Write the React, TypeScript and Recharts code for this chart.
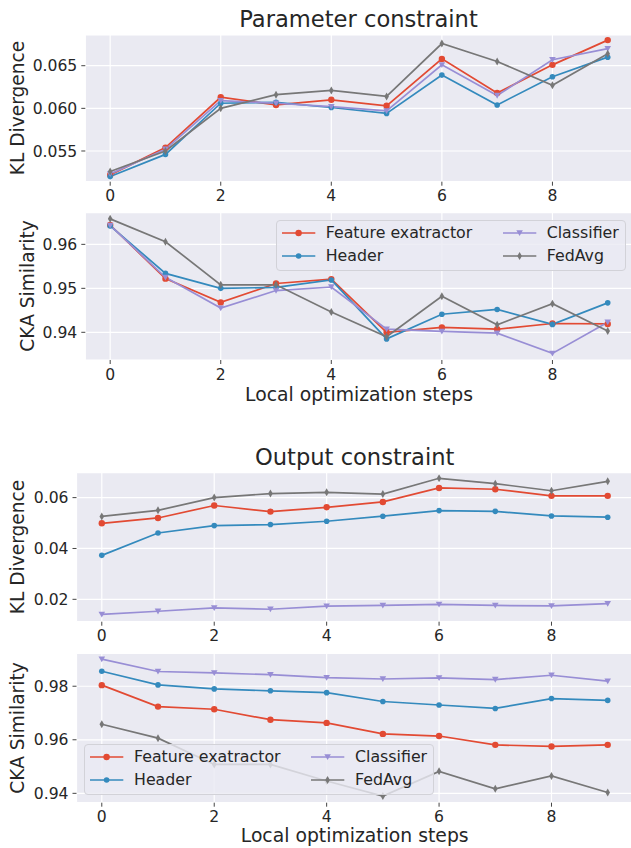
import React from "react";
import { LineChart, Line, XAxis, YAxis, CartesianGrid } from "recharts";

// x values (local optimization steps)
const steps = [0, 1, 2, 3, 4, 5, 6, 7, 8, 9];
const xTicks = [0, 2, 4, 6, 8];

// FedAvg baseline is the same in both figures
const fedAvgKL = [0.0526, 0.055, 0.06, 0.0616, 0.0621, 0.0614, 0.0676, 0.0655, 0.0627, 0.0664];
const fedAvgCKA = [0.9658, 0.9606, 0.9508, 0.9508, 0.9446, 0.939, 0.9482, 0.9417, 0.9465, 0.9403];

// Parameter constraint
const paramKLFeature = [0.0522, 0.0554, 0.0613, 0.0604, 0.061, 0.0603, 0.0658, 0.0618, 0.0651, 0.068];
const paramKLHeader = [0.052, 0.0546, 0.0606, 0.0607, 0.0601, 0.0594, 0.0639, 0.0604, 0.0637, 0.066];
const paramKLClassifier = [0.0523, 0.0552, 0.0609, 0.0606, 0.0602, 0.0597, 0.0651, 0.0615, 0.0657, 0.067];

const paramCKAFeature = [0.9644, 0.9522, 0.9468, 0.9511, 0.9521, 0.94, 0.9411, 0.9407, 0.942, 0.9419];
const paramCKAHeader = [0.9642, 0.9534, 0.95, 0.9502, 0.9519, 0.9385, 0.9441, 0.9452, 0.9418, 0.9467];
const paramCKAClassifier = [0.9643, 0.9525, 0.9455, 0.9495, 0.9503, 0.9407, 0.9402, 0.9398, 0.9352, 0.9423];

// Output constraint
const outKLFeature = [0.0499, 0.052, 0.0569, 0.0545, 0.0562, 0.0583, 0.0638, 0.0633, 0.0607, 0.0607];
const outKLHeader = [0.0373, 0.0461, 0.049, 0.0494, 0.0507, 0.0527, 0.0549, 0.0546, 0.0528, 0.0523];
const outKLClassifier = [0.0141, 0.0153, 0.0166, 0.0161, 0.0173, 0.0176, 0.018, 0.0176, 0.0174, 0.0183];

const outCKAFeature = [0.9804, 0.9724, 0.9714, 0.9675, 0.9663, 0.9622, 0.9614, 0.9581, 0.9575, 0.9581];
const outCKAHeader = [0.9856, 0.9805, 0.979, 0.9783, 0.9776, 0.9743, 0.973, 0.9717, 0.9754, 0.9747];
const outCKAClassifier = [0.9901, 0.9855, 0.985, 0.9843, 0.9832, 0.9827, 0.9831, 0.9825, 0.9841, 0.9819];

const klTicksParam = [0.055, 0.06, 0.065];
const ckaTicksParam = [0.94, 0.95, 0.96];
const klTicksOut = [0.02, 0.04, 0.06];
const ckaTicksOut = [0.94, 0.96, 0.98];

const FONT = "'DejaVu Sans', sans-serif";
const TEXT = "#262626";
const BG = "#EAEAF2";

type Marker = "o" | "h" | "v" | "d";

const SERIES: { key: string; name: string; color: string; marker: Marker }[] = [
  { key: "feature", name: "Feature exatractor", color: "#E24A33", marker: "o" },
  { key: "header", name: "Header", color: "#348ABD", marker: "h" },
  { key: "classifier", name: "Classifier", color: "#988ED5", marker: "v" },
  { key: "fedavg", name: "FedAvg", color: "#777777", marker: "d" },
];

function markerShape(marker: Marker, cx: number, cy: number, color: string, key?: string) {
  if (marker === "o") return <circle key={key} cx={cx} cy={cy} r={3.2} fill={color} />;
  if (marker === "h") return <circle key={key} cx={cx} cy={cy} r={2.8} fill={color} />;
  if (marker === "v")
    return (
      <polygon
        key={key}
        points={`${cx - 3.3},${cy - 2.7} ${cx + 3.3},${cy - 2.7} ${cx},${cy + 3.1}`}
        fill={color}
      />
    );
  return (
    <polygon
      key={key}
      points={`${cx},${cy - 4} ${cx + 2.3},${cy} ${cx},${cy + 4} ${cx - 2.3},${cy}`}
      fill={color}
    />
  );
}

function buildRows(feature: number[], header: number[], classifier: number[], fedavg: number[]) {
  return steps.map((s, i) => ({
    step: s,
    feature: feature[i],
    header: header[i],
    classifier: classifier[i],
    fedavg: fedavg[i],
  }));
}

interface PanelProps {
  rows: ReturnType<typeof buildRows>;
  top: number; // chart top on page
  height: number;
  plotTop: number;
  plotBottom: number;
  plotLeft: number;
  plotRight: number;
  domain: [number, number];
  ticks: number[];
  digits: number;
}

const CHART_W = 640;
const X_AXIS_H = 20;

function Panel({ rows, top, height, plotTop, plotBottom, plotLeft, plotRight, domain, ticks, digits }: PanelProps) {
  const margin = {
    top: plotTop - top,
    left: 0,
    right: CHART_W - plotRight,
    bottom: height - (plotBottom - top) - X_AXIS_H,
  };
  return (
    <div style={{ position: "absolute", left: 0, top }}>
      <LineChart width={CHART_W} height={height} data={rows} margin={margin}>
        <CartesianGrid fill={BG} stroke="#ffffff" strokeWidth={1.2} />
        <XAxis
          dataKey="step"
          type="number"
          domain={[-0.45, 9.45]}
          ticks={xTicks}
          interval={0}
          allowDataOverflow
          height={X_AXIS_H}
          axisLine={false}
          tickSize={4}
          tickMargin={4.7}
          tickLine={{ stroke: "#444", strokeWidth: 1 }}
          tick={{ fill: TEXT, fontSize: 15.6, fontFamily: FONT }}
        />
        <YAxis
          type="number"
          domain={domain}
          ticks={ticks}
          interval={0}
          allowDataOverflow
          width={plotLeft}
          axisLine={false}
          tickSize={4}
          tickMargin={4}
          tickLine={{ stroke: "#444", strokeWidth: 1 }}
          tick={{ fill: TEXT, fontSize: 15.6, fontFamily: FONT }}
          tickFormatter={(v: number) => v.toFixed(digits)}
        />
        {SERIES.map((s) => (
          <Line
            key={s.key}
            type="linear"
            dataKey={s.key}
            name={s.name}
            stroke={s.color}
            strokeWidth={1.7}
            isAnimationActive={false}
            activeDot={false}
            dot={(p: any) => markerShape(s.marker, p.cx, p.cy, s.color, `${s.key}-${p.index}`)}
          />
        ))}
      </LineChart>
    </div>
  );
}

function LegendBox({ left, top }: { left: number; top: number }) {
  const spots = [
    { s: SERIES[0], x: 5, y: 12.7 },
    { s: SERIES[1], x: 5, y: 35.8 },
    { s: SERIES[2], x: 226, y: 12.7 },
    { s: SERIES[3], x: 226, y: 35.8 },
  ];
  return (
    <div
      style={{
        position: "absolute",
        left,
        top,
        width: 350,
        height: 51,
        boxSizing: "border-box",
        background: "rgba(234,234,242,0.8)",
        border: "1px solid #d2d2d8",
        borderRadius: 4,
      }}
    >
      {spots.map(({ s, x, y }) => (
        <React.Fragment key={s.key}>
          <svg style={{ position: "absolute", left: x - 1, top: y - 1 - 6 }} width={36} height={12}>
            <line x1={1} y1={6} x2={34.3} y2={6} stroke={s.color} strokeWidth={1.7} />
            {markerShape(s.marker, 17.6, 6, s.color)}
          </svg>
          <div
            style={{
              position: "absolute",
              left: x + 45 - 1,
              top: y - 1 - 10,
              height: 20,
              lineHeight: "20px",
              fontSize: 15.8,
              fontFamily: FONT,
              color: TEXT,
              whiteSpace: "nowrap",
            }}
          >
            {s.name}
          </div>
        </React.Fragment>
      ))}
    </div>
  );
}

function HText({ cx, cy, size, text }: { cx: number; cy: number; size: number; text: string }) {
  return (
    <div
      style={{
        position: "absolute",
        left: cx,
        top: cy,
        transform: "translate(-50%, -50%)",
        fontSize: size,
        lineHeight: `${size * 1.2}px`,
        fontFamily: FONT,
        color: TEXT,
        whiteSpace: "nowrap",
      }}
    >
      {text}
    </div>
  );
}

function VText({ cx, cy, size, text }: { cx: number; cy: number; size: number; text: string }) {
  return (
    <div
      style={{
        position: "absolute",
        left: cx,
        top: cy,
        transform: "translate(-50%, -50%) rotate(-90deg)",
        fontSize: size,
        lineHeight: `${size * 1.2}px`,
        fontFamily: FONT,
        color: TEXT,
        whiteSpace: "nowrap",
      }}
    >
      {text}
    </div>
  );
}

export default function App() {
  const p1 = buildRows(paramKLFeature, paramKLHeader, paramKLClassifier, fedAvgKL);
  const p2 = buildRows(paramCKAFeature, paramCKAHeader, paramCKAClassifier, fedAvgCKA);
  const p3 = buildRows(outKLFeature, outKLHeader, outKLClassifier, fedAvgKL);
  const p4 = buildRows(outCKAFeature, outCKAHeader, outCKAClassifier, fedAvgCKA);

  return (
    <div
      style={{
        position: "absolute",
        left: 0,
        top: 0,
        width: 631,
        height: 848,
        overflow: "hidden",
        background: "#ffffff",
      }}
    >
      {/* Parameter constraint */}
      <HText cx={358.5} cy={20} size={22.6} text="Parameter constraint" />
      <Panel
        rows={p1}
        top={0}
        height={206}
        plotTop={35}
        plotBottom={181.7}
        plotLeft={85.3}
        plotRight={632.6}
        domain={[0.0514, 0.0686]}
        ticks={klTicksParam}
        digits={3}
      />
      <VText cx={18} cy={108.3} size={18.6} text="KL Divergence" />

      <Panel
        rows={p2}
        top={206}
        height={186}
        plotTop={212.7}
        plotBottom={360}
        plotLeft={85.3}
        plotRight={632.6}
        domain={[0.9337, 0.9672]}
        ticks={ckaTicksParam}
        digits={2}
      />
      <VText cx={28.3} cy={286.4} size={18.6} text="CKA Similarity" />
      <HText cx={359} cy={395} size={18.8} text="Local optimization steps" />
      <LegendBox left={275.7} top={220} />

      {/* Output constraint */}
      <HText cx={354.7} cy={458} size={22.6} text="Output constraint" />
      <Panel
        rows={p3}
        top={440}
        height={207}
        plotTop={472.7}
        plotBottom={621.7}
        plotLeft={76.5}
        plotRight={633}
        domain={[0.0112, 0.0698]}
        ticks={klTicksOut}
        digits={2}
      />
      <VText cx={18.3} cy={547.2} size={18.6} text="KL Divergence" />

      <Panel
        rows={p4}
        top={647}
        height={180}
        plotTop={653.3}
        plotBottom={802.7}
        plotLeft={76.5}
        plotRight={633}
        domain={[0.9365, 0.9923]}
        ticks={ckaTicksOut}
        digits={2}
      />
      <VText cx={18.3} cy={728} size={18.6} text="CKA Similarity" />
      <HText cx={354.7} cy={836} size={18.8} text="Local optimization steps" />
      <LegendBox left={84} top={744} />
    </div>
  );
}
